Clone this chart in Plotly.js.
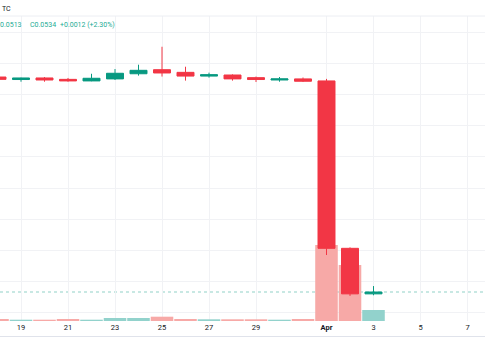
<!DOCTYPE html>
<html>
<head>
<meta charset="utf-8">
<script src="https://cdn.plot.ly/plotly-3.0.1.min.js"></script>
<style>html,body{margin:0;padding:0;background:#fff;}#chart{width:485px;height:360px;}</style>
</head>
<body>
<div id="chart"></div>
<script>
// ---- data ----
const dates  = ['2024-03-18','2024-03-19','2024-03-20','2024-03-21','2024-03-22','2024-03-23','2024-03-24','2024-03-25','2024-03-26','2024-03-27','2024-03-28','2024-03-29','2024-03-30','2024-03-31','2024-04-01','2024-04-02','2024-04-03'];
const opens  = [0.1912,0.1896,0.1906,0.1897,0.1887,0.1900,0.1933,0.1959,0.1942,0.1918,0.1925,0.1908,0.1893,0.1900,0.1887,0.0814,0.0522];
const highs  = [0.1918,0.1908,0.1912,0.1906,0.1933,0.1963,0.1991,0.2106,0.1978,0.1940,0.1929,0.1915,0.1912,0.1909,0.1900,0.0820,0.0572];
const lows   = [0.1890,0.1882,0.1882,0.1882,0.1885,0.1893,0.1921,0.1915,0.1889,0.1908,0.1889,0.1880,0.1882,0.1880,0.0771,0.0509,0.0513];
const closes = [0.1897,0.1906,0.1893,0.1887,0.1904,0.1936,0.1955,0.1938,0.1918,0.1927,0.1900,0.1896,0.1900,0.1885,0.0814,0.0522,0.0534];
const volumes = [20,13,13,20,13,30,30,43,20,17,17,17,13,20,760,560,110];
const tickDates = ['2024-03-19','2024-03-21','2024-03-23','2024-03-25','2024-03-27','2024-03-29','2024-04-01','2024-04-03','2024-04-05','2024-04-07'];
const tickLabels = ['19','21','23','25','27','29','<b>Apr</b>','3','5','7'];
const lastPrice = 0.0534;
const legendLow = '0.0513', legendClose = 'C0.0534', legendChange = '+0.0012 (+2.30%)';
const symbolTail = 'TC';

// ---- styles ----
const UP = '#089981', DOWN = '#F23645';
const VUP = '#92d2cc', VDOWN = '#f7a9a7';
const FONT = 'Roboto, "Noto Sans", sans-serif';

const volColors = closes.map((c,i)=> c >= opens[i] ? VUP : VDOWN);

const volTrace = {
  type:'bar', x: dates, y: volumes, xaxis:'x', yaxis:'y',
  marker:{color: volColors, line:{width:0}}, hoverinfo:'skip'
};
const candle = {
  type:'candlestick', x: dates, open: opens, high: highs, low: lows, close: closes,
  xaxis:'x', yaxis:'y2',
  increasing:{line:{color:UP, width:1}, fillcolor:UP},
  decreasing:{line:{color:DOWN, width:1}, fillcolor:DOWN},
  whiskerwidth:0, hoverinfo:'skip'
};

const layout = {
  width:485, height:360,
  margin:{l:0, r:0, t:16, b:39, pad:0},
  paper_bgcolor:'#ffffff', plot_bgcolor:'#ffffff',
  showlegend:false,
  bargap:0.04,
  boxgap:0.15, boxgroupgap:0.15,
  font:{family:FONT, color:'#131722', size:7.5},
  xaxis:{
    type:'date',
    range:['2024-03-18 02:33:11','2024-04-07 17:52:20'],
    tickmode:'array', tickvals: tickDates, ticktext: tickLabels,
    showgrid:true, gridcolor:'#f1f2f5', gridwidth:1,
    zeroline:false, showline:false, ticks:'',
    tickfont:{size:7.5, color:'#131722', family:FONT},
    rangeslider:{visible:false}, fixedrange:true
  },
  yaxis:{
    range:[0,3050], showgrid:false, zeroline:false, showticklabels:false, showline:false, fixedrange:true
  },
  yaxis2:{
    overlaying:'y', side:'right',
    range:[0.03481,0.23032], tickmode:'linear', tick0:0, dtick:0.02,
    showgrid:true, gridcolor:'#f1f2f5', gridwidth:1,
    zeroline:false, showticklabels:false, showline:false, ticks:'', fixedrange:true
  },
  shapes:[
    {type:'line', xref:'paper', yref:'y2', x0:0, x1:1, y0:lastPrice, y1:lastPrice,
     line:{color:'rgba(8,153,129,0.45)', width:1, dash:'dot'}, layer:'below'},
    {type:'line', xref:'paper', yref:'paper', x0:0, x1:1, y0:1, y1:1,
     line:{color:'#eceef3', width:1}},
    {type:'line', xref:'paper', yref:'paper', x0:0, x1:1, y0:-0.0508, y1:-0.0508,
     line:{color:'#e0e3eb', width:1}}
  ],
  annotations:[
    {xref:'paper', yref:'paper', x:0, y:1.023, xanchor:'left', yanchor:'middle', text:symbolTail,
     showarrow:false, font:{size:7, color:'#131722', family:FONT}},
    {xref:'paper', yref:'paper', x:-2/485, y:0.9705, xanchor:'left', yanchor:'middle', text:legendLow,
     showarrow:false, font:{size:7, color:'#22ab94', family:FONT}},
    {xref:'paper', yref:'paper', x:28/485, y:0.9705, xanchor:'left', yanchor:'middle', text:legendClose,
     showarrow:false, font:{size:7, color:'#22ab94', family:FONT}},
    {xref:'paper', yref:'paper', x:58/485, y:0.9705, xanchor:'left', yanchor:'middle', text:legendChange,
     showarrow:false, font:{size:7, color:'#22ab94', family:FONT}}
  ]
};

Plotly.newPlot('chart', [volTrace, candle], layout, {displayModeBar:false, staticPlot:true});
</script>
</body>
</html>
